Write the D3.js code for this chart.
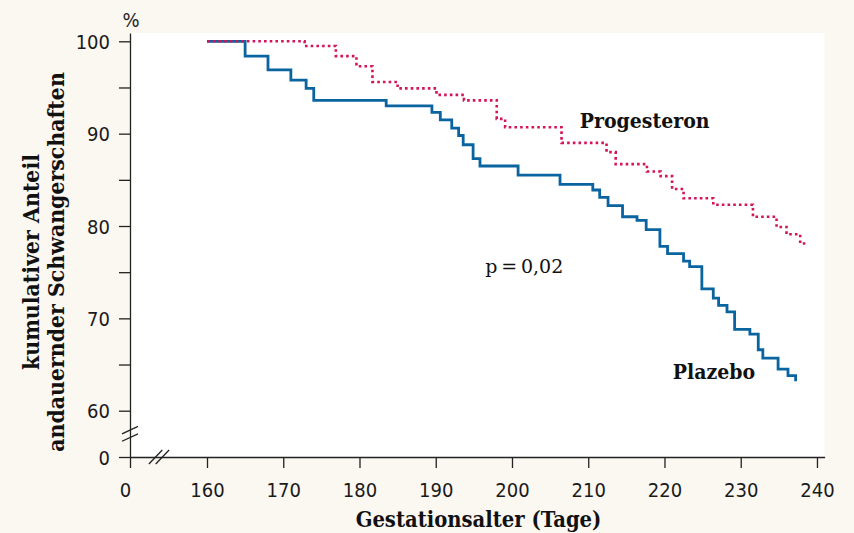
<!DOCTYPE html>
<html>
<head>
<meta charset="utf-8">
<script src="https://cdn.jsdelivr.net/npm/d3@7"></script>
<style>
  body { margin: 0; background: #fbf7f1; }
  svg { display: block; }
  .tick text { font-family: "DejaVu Sans Condensed", sans-serif; font-size: 20px; fill: #1a1a1a; }
</style>
</head>
<body>
<svg width="854" height="533"></svg>
<script>
// Kaplan-Meier Kurven: Tage -> kumulativer Anteil (%)
const plazeboDays = [160, 165, 168, 171, 173, 174, 183.5, 189.5, 190.6, 192.1, 193.0, 193.6, 194.9, 195.8, 200.8, 206.3, 210.6, 211.5, 212.6, 214.5, 216.4, 217.6, 219.4, 220.4, 222.5, 223.3, 224.9, 226.4, 227.1, 228.2, 229.2, 231.2, 232.3, 232.9, 234.9, 236.2, 237.2];
const plazeboValues = [100, 98.4, 96.9, 95.8, 94.9, 93.6, 93.0, 92.3, 91.5, 90.6, 89.8, 88.8, 87.3, 86.5, 85.5, 84.5, 83.9, 83.1, 82.2, 81.0, 80.6, 79.6, 77.8, 77.0, 76.2, 75.6, 73.2, 72.2, 71.4, 70.7, 68.8, 68.3, 66.6, 65.7, 64.5, 63.8, 63.2];

const progesteronDays = [160, 172.8, 176.9, 179.6, 181.7, 185.0, 190.1, 193.7, 198.0, 199.1, 206.5, 212.4, 213.6, 217.7, 219.5, 221.0, 222.5, 226.4, 231.6, 234.7, 236.0, 237.8, 238.8];
const progesteronValues = [100, 99.5, 98.4, 97.3, 95.6, 94.9, 94.2, 93.6, 91.6, 90.7, 89.0, 88.0, 86.7, 85.9, 85.4, 84.0, 83.0, 82.3, 81.0, 79.9, 79.1, 78.1, 78.1];

const xTicks = [0, 160, 170, 180, 190, 200, 210, 220, 230, 240];
const yTicks = [0, 60, 65, 70, 75, 80, 85, 90, 95, 100];

const plazebo = plazeboDays.map((d, i) => ({ t: d, v: plazeboValues[i] }));
const progesteron = progesteronDays.map((d, i) => ({ t: d, v: progesteronValues[i] }));

const svg = d3.select('svg');
const width = +svg.attr('width');
const height = +svg.attr('height');

const blue = '#0a64a0';
const red = '#d4145a';

// gebrochene Achsen: 0 .. 160 bzw. 0 .. 60 gestaucht
const x = d3.scaleLinear()
  .domain([0, 160, 241])
  .range([130, 207, 824.6]);
const y = d3.scaleLinear()
  .domain([0, 60, 100.9])
  .range([457, 410.7, 33]);

svg.append('rect')
  .attr('width', width)
  .attr('height', height)
  .attr('fill', '#fbf7f1');

svg.append('rect')
  .attr('x', x(0))
  .attr('y', y(100.9))
  .attr('width', x(241) - x(0))
  .attr('height', y(0) - y(100.9))
  .attr('fill', '#fff');

const gx = svg.append('g')
  .attr('transform', `translate(0,${y(0)})`)
  .call(d3.axisBottom(x).tickValues(xTicks).tickSize(11).tickSizeOuter(0).tickPadding(13));
gx.selectAll('.tick text').attr('dy', '0.78em');
gx.selectAll('.tick').filter(d => d === 0).select('text').attr('dx', -5);

const gy = svg.append('g')
  .attr('transform', `translate(${x(0)},0)`)
  .call(d3.axisLeft(y).tickValues(yTicks).tickSize(11).tickSizeOuter(0).tickPadding(9)
    .tickFormat(d => d % 10 === 0 ? d : ''));
gy.selectAll('.tick text').attr('dy', '0.36em');

svg.selectAll('.domain, .tick line').attr('stroke', '#222').attr('stroke-width', 1.3);

// Achsenbruch-Zeichen
const brk = svg.append('g').attr('stroke', '#222').attr('stroke-width', 1.3).attr('fill', 'none');
const yb = (y(0) + y(60)) / 2;
[-3.7, 3.7].forEach(o => {
  brk.append('line')
    .attr('x1', x(0) - 8).attr('y1', yb + o + 3.7)
    .attr('x2', x(0) + 8).attr('y2', yb + o - 3.7);
});
const xb = (x(0) + x(160)) / 2 - 9.5;
[-3.4, 3.4].forEach(o => {
  brk.append('line')
    .attr('x1', xb + o - 6.7).attr('y1', y(0) + 7)
    .attr('x2', xb + o + 6.7).attr('y2', y(0) - 7);
});

const line = d3.line()
  .x(d => x(d.t))
  .y(d => y(d.v))
  .curve(d3.curveStepAfter);

svg.append('path')
  .datum(plazebo)
  .attr('fill', 'none')
  .attr('stroke', blue)
  .attr('stroke-width', 2.8)
  .attr('d', line);

svg.append('path')
  .datum(progesteron)
  .attr('fill', 'none')
  .attr('stroke', red)
  .attr('stroke-width', 2.6)
  .attr('stroke-dasharray', '2.6,3.1')
  .attr('d', line);

const serif = '"DejaVu Serif Condensed", "DejaVu Serif", serif';

svg.append('text')
  .attr('x', x(208.9)).attr('y', y(90.64))
  .attr('font-family', serif).attr('font-weight', 'bold').attr('font-size', 21)
  .attr('fill', '#111')
  .text('Progesteron');

svg.append('text')
  .attr('x', x(221.1)).attr('y', y(63.4))
  .attr('font-family', serif).attr('font-weight', 'bold').attr('font-size', 21)
  .attr('fill', '#111')
  .text('Plazebo');

svg.append('text')
  .attr('x', x(196.5)).attr('y', y(74.9))
  .attr('font-family', '"DejaVu Serif", serif').attr('font-size', 19)
  .attr('fill', '#111')
  .text('p\u2009=\u20090,02');

svg.append('text')
  .attr('x', 131).attr('y', 26.5)
  .attr('text-anchor', 'middle')
  .attr('font-family', '"DejaVu Sans Condensed", sans-serif').attr('font-size', 20)
  .attr('fill', '#222')
  .text('%');

svg.append('text')
  .attr('x', 478.5).attr('y', 526.7)
  .attr('text-anchor', 'middle')
  .attr('font-family', serif).attr('font-weight', 'bold').attr('font-size', 21.8)
  .attr('fill', '#111')
  .text('Gestationsalter (Tage)');

const yTitle = svg.append('text')
  .attr('transform', 'translate(0,262) rotate(-90)')
  .attr('text-anchor', 'middle')
  .attr('font-family', serif).attr('font-weight', 'bold').attr('font-size', 22.8)
  .attr('fill', '#111');
yTitle.append('tspan').attr('x', 0).attr('y', 38.5).text('kumulativer Anteil');
yTitle.append('tspan').attr('x', 0).attr('y', 63.5).text('andauernder Schwangerschaften');
</script>
</body>
</html>
